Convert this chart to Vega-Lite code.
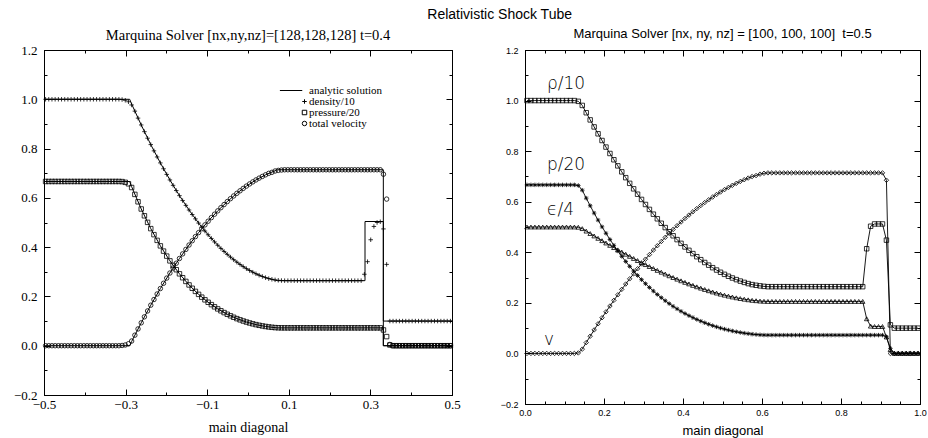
{
"$schema": "https://vega.github.io/schema/vega-lite/v6.json",
"padding": {"left": 0, "top": 8, "right": 0, "bottom": 0},
"spacing": 33,
"resolve": {"scale": {"shape": "independent"}, "legend": {"shape": "independent"}},
"title": {"text": "Relativistic Shock Tube", "font": "Liberation Sans", "fontSize": 14, "fontWeight": "normal", "color": "black", "anchor": "middle", "dx": 36, "offset": 5},
"config": {
  "view": {"stroke": "black", "strokeWidth": 1},
  "axis": {"grid": false, "domainColor": "black", "tickColor": "black", "labelColor": "black", "titleColor": "black", "tickWidth": 1, "labelFlush": false, "labelOverlap": false}
},
"datasets": {
"an": [
{"s":"d","o":0,"x":-0.5,"y":1},{"s":"d","o":1,"x":-0.29,"y":1},{"s":"d","o":2,"x":-0.2852,"y":0.9808},{"s":"d","o":3,"x":-0.2617,"y":0.8958},{"s":"d","o":4,"x":-0.2383,"y":0.8161},{"s":"d","o":5,"x":-0.2148,"y":0.7418},{"s":"d","o":6,"x":-0.1914,"y":0.6727},{"s":"d","o":7,"x":-0.168,"y":0.609},{"s":"d","o":8,"x":-0.1445,"y":0.5507},{"s":"d","o":9,"x":-0.1211,"y":0.4977},{"s":"d","o":10,"x":-0.0977,"y":0.4501},{"s":"d","o":11,"x":-0.0742,"y":0.4077},{"s":"d","o":12,"x":-0.0508,"y":0.3708},{"s":"d","o":13,"x":-0.0273,"y":0.3391},{"s":"d","o":14,"x":-0.0039,"y":0.3128},{"s":"d","o":15,"x":0.0195,"y":0.2919},{"s":"d","o":16,"x":0.043,"y":0.2762},{"s":"d","o":17,"x":0.0664,"y":0.266},{"s":"d","o":18,"x":0.072,"y":0.264},{"s":"d","o":19,"x":0.2868,"y":0.264},{"s":"d","o":20,"x":0.2868,"y":0.504},{"s":"d","o":21,"x":0.3317,"y":0.504},{"s":"d","o":22,"x":0.3317,"y":0.1},{"s":"d","o":23,"x":0.5,"y":0.1},
{"s":"p","o":0,"x":-0.5,"y":0.6665},{"s":"p","o":1,"x":-0.29,"y":0.6665},{"s":"p","o":2,"x":-0.2852,"y":0.6455},{"s":"p","o":3,"x":-0.2617,"y":0.5549},{"s":"p","o":4,"x":-0.2383,"y":0.4752},{"s":"p","o":5,"x":-0.2148,"y":0.4052},{"s":"p","o":6,"x":-0.1914,"y":0.3443},{"s":"p","o":7,"x":-0.168,"y":0.2917},{"s":"p","o":8,"x":-0.1445,"y":0.2466},{"s":"p","o":9,"x":-0.1211,"y":0.2084},{"s":"p","o":10,"x":-0.0977,"y":0.1763},{"s":"p","o":11,"x":-0.0742,"y":0.1494},{"s":"p","o":12,"x":-0.0508,"y":0.1276},{"s":"p","o":13,"x":-0.0273,"y":0.1099},{"s":"p","o":14,"x":-0.0039,"y":0.0961},{"s":"p","o":15,"x":0.0195,"y":0.0856},{"s":"p","o":16,"x":0.043,"y":0.0781},{"s":"p","o":17,"x":0.0664,"y":0.0733},{"s":"p","o":18,"x":0.072,"y":0.0724},{"s":"p","o":19,"x":0.3317,"y":0.0724},{"s":"p","o":20,"x":0.3317,"y":0},{"s":"p","o":21,"x":0.5,"y":0},
{"s":"v","o":0,"x":-0.5,"y":0},{"s":"v","o":1,"x":-0.29,"y":0},{"s":"v","o":2,"x":-0.2852,"y":0.017},{"s":"v","o":3,"x":-0.2617,"y":0.0929},{"s":"v","o":4,"x":-0.2383,"y":0.1645},{"s":"v","o":5,"x":-0.2148,"y":0.2319},{"s":"v","o":6,"x":-0.1914,"y":0.295},{"s":"v","o":7,"x":-0.168,"y":0.3539},{"s":"v","o":8,"x":-0.1445,"y":0.4086},{"s":"v","o":9,"x":-0.1211,"y":0.459},{"s":"v","o":10,"x":-0.0977,"y":0.5052},{"s":"v","o":11,"x":-0.0742,"y":0.5472},{"s":"v","o":12,"x":-0.0508,"y":0.5849},{"s":"v","o":13,"x":-0.0273,"y":0.6184},{"s":"v","o":14,"x":-0.0039,"y":0.6477},{"s":"v","o":15,"x":0.0195,"y":0.6727},{"s":"v","o":16,"x":0.043,"y":0.6935},{"s":"v","o":17,"x":0.0664,"y":0.71},{"s":"v","o":18,"x":0.072,"y":0.714},{"s":"v","o":19,"x":0.3317,"y":0.714},{"s":"v","o":20,"x":0.3317,"y":0},{"s":"v","o":21,"x":0.5,"y":0}
],
"left": [
{"x":-0.4961,"d":1,"p":0.6665,"v":0},{"x":-0.4883,"d":1,"p":0.6665,"v":0},{"x":-0.4805,"d":1,"p":0.6665,"v":0},{"x":-0.4727,"d":1,"p":0.6665,"v":0},{"x":-0.4648,"d":1,"p":0.6665,"v":0},{"x":-0.457,"d":1,"p":0.6665,"v":0},{"x":-0.4492,"d":1,"p":0.6665,"v":0},{"x":-0.4414,"d":1,"p":0.6665,"v":0},{"x":-0.4336,"d":1,"p":0.6665,"v":0},{"x":-0.4258,"d":1,"p":0.6665,"v":0},{"x":-0.418,"d":1,"p":0.6665,"v":0},{"x":-0.4102,"d":1,"p":0.6665,"v":0},{"x":-0.4023,"d":1,"p":0.6665,"v":0},{"x":-0.3945,"d":1,"p":0.6665,"v":0},{"x":-0.3867,"d":1,"p":0.6665,"v":0},{"x":-0.3789,"d":1,"p":0.6665,"v":0},{"x":-0.3711,"d":1,"p":0.6665,"v":0},{"x":-0.3633,"d":1,"p":0.6665,"v":0},{"x":-0.3555,"d":1,"p":0.6665,"v":0},{"x":-0.3477,"d":1,"p":0.6665,"v":0},{"x":-0.3398,"d":1,"p":0.6665,"v":0},{"x":-0.332,"d":1,"p":0.6665,"v":0},{"x":-0.3242,"d":1,"p":0.6665,"v":0},{"x":-0.3164,"d":1,"p":0.6665,"v":0},
{"x":-0.3086,"d":0.999,"p":0.666,"v":0.001},{"x":-0.3008,"d":0.996,"p":0.663,"v":0.003},{"x":-0.293,"d":0.99,"p":0.657,"v":0.008},{"x":-0.2852,"d":0.977,"p":0.642,"v":0.019},
{"x":-0.2773,"d":0.9519,"p":0.614,"v":0.0428},{"x":-0.2695,"d":0.9236,"p":0.584,"v":0.0681},{"x":-0.2617,"d":0.8958,"p":0.5549,"v":0.0929},{"x":-0.2539,"d":0.8686,"p":0.5272,"v":0.1172},{"x":-0.2461,"d":0.8421,"p":0.5006,"v":0.1411},{"x":-0.2383,"d":0.8161,"p":0.4752,"v":0.1645},{"x":-0.2305,"d":0.7907,"p":0.4507,"v":0.1874},{"x":-0.2227,"d":0.7659,"p":0.4275,"v":0.2099},{"x":-0.2148,"d":0.7418,"p":0.4052,"v":0.2319},{"x":-0.207,"d":0.7181,"p":0.3839,"v":0.2534},{"x":-0.1992,"d":0.6951,"p":0.3636,"v":0.2744},{"x":-0.1914,"d":0.6727,"p":0.3443,"v":0.295},{"x":-0.1836,"d":0.6509,"p":0.3259,"v":0.3151},{"x":-0.1758,"d":0.6297,"p":0.3084,"v":0.3348},{"x":-0.168,"d":0.609,"p":0.2917,"v":0.3539},{"x":-0.1602,"d":0.589,"p":0.2759,"v":0.3726},{"x":-0.1523,"d":0.5696,"p":0.2609,"v":0.3908},{"x":-0.1445,"d":0.5507,"p":0.2466,"v":0.4086},{"x":-0.1367,"d":0.5324,"p":0.2331,"v":0.4259},{"x":-0.1289,"d":0.5148,"p":0.2205,"v":0.4427},{"x":-0.1211,"d":0.4977,"p":0.2084,"v":0.459},{"x":-0.1133,"d":0.4812,"p":0.197,"v":0.4749},{"x":-0.1055,"d":0.4653,"p":0.1862,"v":0.4903},{"x":-0.0977,"d":0.4501,"p":0.1763,"v":0.5052},{"x":-0.0898,"d":0.4353,"p":0.1667,"v":0.5197},{"x":-0.082,"d":0.4212,"p":0.1578,"v":0.5337},{"x":-0.0742,"d":0.4077,"p":0.1494,"v":0.5472},{"x":-0.0664,"d":0.3948,"p":0.1417,"v":0.5602},{"x":-0.0586,"d":0.3825,"p":0.1344,"v":0.5728},{"x":-0.0508,"d":0.3708,"p":0.1276,"v":0.5849},{"x":-0.043,"d":0.3596,"p":0.1213,"v":0.5966},{"x":-0.0352,"d":0.3491,"p":0.1154,"v":0.6077},{"x":-0.0273,"d":0.3391,"p":0.1099,"v":0.6184},{"x":-0.0195,"d":0.3298,"p":0.105,"v":0.6286},{"x":-0.0117,"d":0.321,"p":0.1003,"v":0.6384},{"x":-0.0039,"d":0.3128,"p":0.0961,"v":0.6477},{"x":0.0039,"d":0.3052,"p":0.0923,"v":0.6565},{"x":0.0117,"d":0.2983,"p":0.0888,"v":0.6648},{"x":0.0195,"d":0.2919,"p":0.0856,"v":0.6727},{"x":0.0273,"d":0.2861,"p":0.0828,"v":0.6801},{"x":0.0352,"d":0.2809,"p":0.0803,"v":0.687},{"x":0.043,"d":0.2762,"p":0.0781,"v":0.6935},{"x":0.0508,"d":0.2722,"p":0.0762,"v":0.6995},{"x":0.0586,"d":0.2695,"p":0.0747,"v":0.7035},{"x":0.0664,"d":0.2672,"p":0.0735,"v":0.709},{"x":0.0742,"d":0.2655,"p":0.0728,"v":0.7115},{"x":0.082,"d":0.2645,"p":0.0725,"v":0.713},
{"x":0.0898,"d":0.264,"p":0.0724,"v":0.714},{"x":0.0977,"d":0.264,"p":0.0724,"v":0.714},{"x":0.1055,"d":0.264,"p":0.0724,"v":0.714},{"x":0.1133,"d":0.264,"p":0.0724,"v":0.714},{"x":0.1211,"d":0.264,"p":0.0724,"v":0.714},{"x":0.1289,"d":0.264,"p":0.0724,"v":0.714},{"x":0.1367,"d":0.264,"p":0.0724,"v":0.714},{"x":0.1445,"d":0.264,"p":0.0724,"v":0.714},{"x":0.1523,"d":0.264,"p":0.0724,"v":0.714},{"x":0.1602,"d":0.264,"p":0.0724,"v":0.714},{"x":0.168,"d":0.264,"p":0.0724,"v":0.714},{"x":0.1758,"d":0.264,"p":0.0724,"v":0.714},{"x":0.1836,"d":0.264,"p":0.0724,"v":0.714},{"x":0.1914,"d":0.264,"p":0.0724,"v":0.714},{"x":0.1992,"d":0.264,"p":0.0724,"v":0.714},{"x":0.207,"d":0.264,"p":0.0724,"v":0.714},{"x":0.2148,"d":0.264,"p":0.0724,"v":0.714},{"x":0.2227,"d":0.264,"p":0.0724,"v":0.714},{"x":0.2305,"d":0.264,"p":0.0724,"v":0.714},{"x":0.2383,"d":0.264,"p":0.0724,"v":0.714},{"x":0.2461,"d":0.264,"p":0.0724,"v":0.714},{"x":0.2539,"d":0.264,"p":0.0724,"v":0.714},{"x":0.2617,"d":0.264,"p":0.0724,"v":0.714},{"x":0.2695,"d":0.264,"p":0.0724,"v":0.714},{"x":0.2773,"d":0.264,"p":0.0724,"v":0.714},
{"x":0.2852,"d":0.29,"p":0.0724,"v":0.714},{"x":0.293,"d":0.341,"p":0.0724,"v":0.714},{"x":0.3008,"d":0.43,"p":0.0724,"v":0.714},{"x":0.3086,"d":0.484,"p":0.0724,"v":0.714},{"x":0.3164,"d":0.5,"p":0.0724,"v":0.714},{"x":0.3242,"d":0.503,"p":0.0724,"v":0.714},{"x":0.332,"d":0.474,"p":0.064,"v":0.696},{"x":0.3398,"d":0.33,"p":0.037,"v":0.595},{"x":0.3477,"d":0.1,"p":0.003,"v":0.005},
{"x":0.3555,"d":0.1,"p":0,"v":0},{"x":0.3633,"d":0.1,"p":0,"v":0},{"x":0.3711,"d":0.1,"p":0,"v":0},{"x":0.3789,"d":0.1,"p":0,"v":0},{"x":0.3867,"d":0.1,"p":0,"v":0},{"x":0.3945,"d":0.1,"p":0,"v":0},{"x":0.4023,"d":0.1,"p":0,"v":0},{"x":0.4102,"d":0.1,"p":0,"v":0},{"x":0.418,"d":0.1,"p":0,"v":0},{"x":0.4258,"d":0.1,"p":0,"v":0},{"x":0.4336,"d":0.1,"p":0,"v":0},{"x":0.4414,"d":0.1,"p":0,"v":0},{"x":0.4492,"d":0.1,"p":0,"v":0},{"x":0.457,"d":0.1,"p":0,"v":0},{"x":0.4648,"d":0.1,"p":0,"v":0},{"x":0.4727,"d":0.1,"p":0,"v":0},{"x":0.4805,"d":0.1,"p":0,"v":0},{"x":0.4883,"d":0.1,"p":0,"v":0},{"x":0.4961,"d":0.1,"p":0,"v":0}
],
"right": [
{"x":0.005,"r":1,"p":0.6665,"e":0.5,"v":0},{"x":0.015,"r":1,"p":0.6665,"e":0.5,"v":0},{"x":0.025,"r":1,"p":0.6665,"e":0.5,"v":0},{"x":0.035,"r":1,"p":0.6665,"e":0.5,"v":0},{"x":0.045,"r":1,"p":0.6665,"e":0.5,"v":0},{"x":0.055,"r":1,"p":0.6665,"e":0.5,"v":0},{"x":0.065,"r":1,"p":0.6665,"e":0.5,"v":0},{"x":0.075,"r":1,"p":0.6665,"e":0.5,"v":0},{"x":0.085,"r":1,"p":0.6665,"e":0.5,"v":0},{"x":0.095,"r":1,"p":0.6665,"e":0.5,"v":0},{"x":0.105,"r":1,"p":0.6665,"e":0.5,"v":0},{"x":0.115,"r":1,"p":0.6665,"e":0.5,"v":0},{"x":0.125,"r":1,"p":0.6665,"e":0.5,"v":0},
{"x":0.135,"r":0.997,"p":0.664,"e":0.499,"v":0.002},
{"x":0.145,"r":0.9808,"p":0.6455,"e":0.4936,"v":0.017},{"x":0.155,"r":0.9519,"p":0.614,"e":0.4838,"v":0.0428},{"x":0.165,"r":0.9236,"p":0.584,"e":0.4742,"v":0.0681},{"x":0.175,"r":0.8958,"p":0.5549,"e":0.4646,"v":0.0929},{"x":0.185,"r":0.8686,"p":0.5272,"e":0.4552,"v":0.1172},{"x":0.195,"r":0.8421,"p":0.5006,"e":0.4459,"v":0.1411},{"x":0.205,"r":0.8161,"p":0.4752,"e":0.4367,"v":0.1645},{"x":0.215,"r":0.7907,"p":0.4507,"e":0.4275,"v":0.1874},{"x":0.225,"r":0.7659,"p":0.4275,"e":0.4186,"v":0.2099},{"x":0.235,"r":0.7418,"p":0.4052,"e":0.4097,"v":0.2319},{"x":0.245,"r":0.7181,"p":0.3839,"e":0.401,"v":0.2534},{"x":0.255,"r":0.6951,"p":0.3636,"e":0.3923,"v":0.2744},{"x":0.265,"r":0.6727,"p":0.3443,"e":0.3839,"v":0.295},{"x":0.275,"r":0.6509,"p":0.3259,"e":0.3755,"v":0.3151},{"x":0.285,"r":0.6297,"p":0.3084,"e":0.3673,"v":0.3348},{"x":0.295,"r":0.609,"p":0.2917,"e":0.3592,"v":0.3539},{"x":0.305,"r":0.589,"p":0.2759,"e":0.3513,"v":0.3726},{"x":0.315,"r":0.5696,"p":0.2609,"e":0.3436,"v":0.3908},{"x":0.325,"r":0.5507,"p":0.2466,"e":0.3359,"v":0.4086},{"x":0.335,"r":0.5324,"p":0.2331,"e":0.3284,"v":0.4259},{"x":0.345,"r":0.5148,"p":0.2205,"e":0.3212,"v":0.4427},{"x":0.355,"r":0.4977,"p":0.2084,"e":0.314,"v":0.459},{"x":0.365,"r":0.4812,"p":0.197,"e":0.307,"v":0.4749},{"x":0.375,"r":0.4653,"p":0.1862,"e":0.3002,"v":0.4903},{"x":0.385,"r":0.4501,"p":0.1763,"e":0.2937,"v":0.5052},{"x":0.395,"r":0.4353,"p":0.1667,"e":0.2872,"v":0.5197},{"x":0.405,"r":0.4212,"p":0.1578,"e":0.281,"v":0.5337},{"x":0.415,"r":0.4077,"p":0.1494,"e":0.2749,"v":0.5472},{"x":0.425,"r":0.3948,"p":0.1417,"e":0.2691,"v":0.5602},{"x":0.435,"r":0.3825,"p":0.1344,"e":0.2635,"v":0.5728},{"x":0.445,"r":0.3708,"p":0.1276,"e":0.2581,"v":0.5849},{"x":0.455,"r":0.3596,"p":0.1213,"e":0.2529,"v":0.5966},{"x":0.465,"r":0.3491,"p":0.1154,"e":0.2479,"v":0.6077},{"x":0.475,"r":0.3391,"p":0.1099,"e":0.2431,"v":0.6184},{"x":0.485,"r":0.3298,"p":0.105,"e":0.2387,"v":0.6286},{"x":0.495,"r":0.321,"p":0.1003,"e":0.2344,"v":0.6384},{"x":0.505,"r":0.3128,"p":0.0961,"e":0.2304,"v":0.6477},{"x":0.515,"r":0.3052,"p":0.0923,"e":0.2267,"v":0.6565},{"x":0.525,"r":0.2983,"p":0.0888,"e":0.2232,"v":0.6648},{"x":0.535,"r":0.2919,"p":0.0856,"e":0.22,"v":0.6727},{"x":0.545,"r":0.2861,"p":0.0828,"e":0.2171,"v":0.6801},{"x":0.555,"r":0.2809,"p":0.0803,"e":0.2145,"v":0.687},{"x":0.565,"r":0.2762,"p":0.0781,"e":0.2121,"v":0.6935},{"x":0.575,"r":0.2722,"p":0.0762,"e":0.21,"v":0.6995},{"x":0.585,"r":0.2695,"p":0.0747,"e":0.2085,"v":0.7035},{"x":0.595,"r":0.2672,"p":0.0735,"e":0.207,"v":0.709},{"x":0.605,"r":0.2652,"p":0.0727,"e":0.2062,"v":0.7125},
{"x":0.615,"r":0.264,"p":0.0724,"e":0.2057,"v":0.714},{"x":0.625,"r":0.264,"p":0.0724,"e":0.2057,"v":0.714},{"x":0.635,"r":0.264,"p":0.0724,"e":0.2057,"v":0.714},{"x":0.645,"r":0.264,"p":0.0724,"e":0.2057,"v":0.714},{"x":0.655,"r":0.264,"p":0.0724,"e":0.2057,"v":0.714},{"x":0.665,"r":0.264,"p":0.0724,"e":0.2057,"v":0.714},{"x":0.675,"r":0.264,"p":0.0724,"e":0.2057,"v":0.714},{"x":0.685,"r":0.264,"p":0.0724,"e":0.2057,"v":0.714},{"x":0.695,"r":0.264,"p":0.0724,"e":0.2057,"v":0.714},{"x":0.705,"r":0.264,"p":0.0724,"e":0.2057,"v":0.714},{"x":0.715,"r":0.264,"p":0.0724,"e":0.2057,"v":0.714},{"x":0.725,"r":0.264,"p":0.0724,"e":0.2057,"v":0.714},{"x":0.735,"r":0.264,"p":0.0724,"e":0.2057,"v":0.714},{"x":0.745,"r":0.264,"p":0.0724,"e":0.2057,"v":0.714},{"x":0.755,"r":0.264,"p":0.0724,"e":0.2057,"v":0.714},{"x":0.765,"r":0.264,"p":0.0724,"e":0.2057,"v":0.714},{"x":0.775,"r":0.264,"p":0.0724,"e":0.2057,"v":0.714},{"x":0.785,"r":0.264,"p":0.0724,"e":0.2057,"v":0.714},{"x":0.795,"r":0.264,"p":0.0724,"e":0.2057,"v":0.714},{"x":0.805,"r":0.264,"p":0.0724,"e":0.2057,"v":0.714},{"x":0.815,"r":0.264,"p":0.0724,"e":0.2057,"v":0.714},{"x":0.825,"r":0.264,"p":0.0724,"e":0.2057,"v":0.714},{"x":0.835,"r":0.264,"p":0.0724,"e":0.2057,"v":0.714},{"x":0.845,"r":0.264,"p":0.0724,"e":0.2057,"v":0.714},{"x":0.855,"r":0.264,"p":0.0724,"e":0.2057,"v":0.714},
{"x":0.865,"r":0.414,"p":0.0724,"e":0.137,"v":0.714},{"x":0.875,"r":0.503,"p":0.0724,"e":0.108,"v":0.714},{"x":0.885,"r":0.512,"p":0.0724,"e":0.1065,"v":0.714},{"x":0.895,"r":0.512,"p":0.0724,"e":0.1065,"v":0.714},{"x":0.905,"r":0.512,"p":0.0724,"e":0.1065,"v":0.714},{"x":0.915,"r":0.448,"p":0.066,"e":0.065,"v":0.685},{"x":0.925,"r":0.113,"p":0.02,"e":0.015,"v":0},
{"x":0.935,"r":0.1,"p":0,"e":0,"v":0},{"x":0.945,"r":0.1,"p":0,"e":0,"v":0},{"x":0.955,"r":0.1,"p":0,"e":0,"v":0},{"x":0.965,"r":0.1,"p":0,"e":0,"v":0},{"x":0.975,"r":0.1,"p":0,"e":0,"v":0},{"x":0.985,"r":0.1,"p":0,"e":0,"v":0},{"x":0.995,"r":0.1,"p":0,"e":0,"v":0}
],
"lab": [
{"x":0.104,"y":1.067,"t":"ρ/10"},{"x":0.104,"y":0.747,"t":"p/20"},{"x":0.09,"y":0.569,"t":"ϵ/4"},{"x":0.061,"y":0.055,"t":"v"}
]
},
"hconcat": [
{
  "width": 408, "height": 345,
  "title": {"text": "Marquina Solver [nx,ny,nz]=[128,128,128] t=0.4", "font": "Liberation Serif", "fontSize": 14.5, "fontWeight": "normal", "color": "black", "offset": 1},
  "resolve": {"axis": {"x": "independent", "y": "independent"}},
  "layer": [
    {
      "data": {"name": "an"},
      "mark": {"type": "line", "stroke": "black", "strokeWidth": 1},
      "encoding": {
        "x": {"field": "x", "type": "quantitative", "scale": {"domain": [-0.5, 0.5], "nice": false, "zero": false},
          "axis": {"orient": "bottom", "values": [-0.5,-0.4,-0.3,-0.2,-0.1,0,0.1,0.2,0.3,0.4,0.5], "format": ".1f",
            "labelExpr": "abs(round(datum.value*10))%2==1 ? datum.label : ''",
            "tickSize": {"condition": {"test": "abs(round(datum.value*10))%2==1", "value": -6}, "value": -3},
            "labelPadding": 9, "labelFont": "Liberation Serif", "labelFontSize": 13,
            "title": "main diagonal", "titleFont": "Liberation Serif", "titleFontSize": 14, "titleFontWeight": "normal", "titlePadding": 5,
            "minExtent": 20, "maxExtent": 20}},
        "y": {"field": "y", "type": "quantitative", "scale": {"domain": [-0.2, 1.2], "nice": false, "zero": false},
          "axis": {"orient": "left", "values": [-0.2,-0.1,0,0.1,0.2,0.3,0.4,0.5,0.6,0.7,0.8,0.9,1,1.1,1.2], "format": ".1f",
            "labelExpr": "abs(round(datum.value*10))%2==0 ? datum.label : ''",
            "tickSize": {"condition": {"test": "abs(round(datum.value*10))%2==0", "value": -6}, "value": -3},
            "labelPadding": 13, "labelFont": "Liberation Serif", "labelFontSize": 13,
            "title": null, "minExtent": 43, "maxExtent": 43}},
        "detail": {"field": "s", "type": "nominal"},
        "order": {"field": "o", "type": "quantitative"}
      }
    },
    {
      "data": {"name": "left"},
      "transform": [{"fold": ["d", "p", "v"], "as": ["s", "y"]}],
      "mark": {"type": "point", "filled": false, "stroke": "black", "strokeWidth": 0.8, "size": 20, "opacity": 1},
      "encoding": {
        "x": {"field": "x", "type": "quantitative", "scale": {"domain": [-0.5, 0.5], "nice": false, "zero": false},
          "axis": {"orient": "top", "values": [-0.5,-0.4,-0.3,-0.2,-0.1,0,0.1,0.2,0.3,0.4,0.5], "labels": false,
            "tickSize": {"condition": {"test": "abs(round(datum.value*10))%2==1", "value": -6}, "value": -3},
            "title": null, "minExtent": 0, "maxExtent": 0}},
        "y": {"field": "y", "type": "quantitative", "scale": {"domain": [-0.2, 1.2], "nice": false, "zero": false},
          "axis": {"orient": "right", "values": [-0.2,-0.1,0,0.1,0.2,0.3,0.4,0.5,0.6,0.7,0.8,0.9,1,1.1,1.2], "labels": false,
            "tickSize": {"condition": {"test": "abs(round(datum.value*10))%2==0", "value": -6}, "value": -3},
            "title": null, "minExtent": 0, "maxExtent": 0}},
        "shape": {"field": "s", "type": "nominal",
          "scale": {"domain": ["a", "d", "p", "v"], "range": ["M-11,0H-1", "M-1,0H1M0,-1V1", "square", "circle"]},
          "legend": {"title": null, "orient": "none", "legendX": 255, "legendY": 35, "padding": 0,
            "labelExpr": "datum.label=='a' ? 'analytic solution' : datum.label=='d' ? 'density/10' : datum.label=='p' ? 'pressure/20' : 'total velocity'",
            "labelFont": "Liberation Serif", "labelFontSize": 11, "labelColor": "black", "labelOffset": -1,
            "symbolStrokeColor": "black", "symbolStrokeWidth": 1, "symbolSize": 20, "rowPadding": -1}}
      }
    }
  ]
},
{
  "width": 395, "height": 354,
  "title": {"text": "Marquina Solver [nx, ny, nz] = [100, 100, 100] \u00a0t=0.5", "font": "Liberation Sans", "fontSize": 13, "fontWeight": "normal", "color": "black", "offset": 5},
  "resolve": {"axis": {"x": "independent", "y": "independent"}},
  "layer": [
    {
      "data": {"name": "right"},
      "transform": [{"fold": ["r", "p", "e", "v"], "as": ["s", "y"]}],
      "mark": {"type": "line", "stroke": "black", "strokeWidth": 0.9},
      "encoding": {
        "x": {"field": "x", "type": "quantitative", "scale": {"domain": [0, 1], "nice": false, "zero": false},
          "axis": {"orient": "bottom", "values": [0,0.05,0.1,0.15,0.2,0.25,0.3,0.35,0.4,0.45,0.5,0.55,0.6,0.65,0.7,0.75,0.8,0.85,0.9,0.95,1], "format": ".1f",
            "labelExpr": "round(datum.value*20)%4==0 ? datum.label : ''",
            "tickSize": {"condition": {"test": "round(datum.value*20)%4==0", "value": -6}, "value": -3},
            "labelPadding": 10, "labelFont": "Liberation Sans", "labelFontSize": 9,
            "title": "main diagonal", "titleFont": "Liberation Sans", "titleFontSize": 13, "titleFontWeight": "normal", "titlePadding": 4,
            "minExtent": 16, "maxExtent": 16}},
        "y": {"field": "y", "type": "quantitative", "scale": {"domain": [-0.2, 1.2], "nice": false, "zero": false},
          "axis": {"orient": "left", "values": [-0.2,-0.1,0,0.1,0.2,0.3,0.4,0.5,0.6,0.7,0.8,0.9,1,1.1,1.2], "format": ".1f",
            "labelExpr": "abs(round(datum.value*10))%2==0 ? datum.label : ''",
            "tickSize": {"condition": {"test": "abs(round(datum.value*10))%2==0", "value": -6}, "value": -3},
            "labelPadding": 13, "labelFont": "Liberation Sans", "labelFontSize": 9,
            "title": null, "minExtent": 30, "maxExtent": 30}},
        "detail": {"field": "s", "type": "nominal"}
      }
    },
    {
      "data": {"name": "right"},
      "transform": [{"fold": ["r", "p", "e", "v"], "as": ["s", "y"]}],
      "mark": {"type": "point", "filled": false, "stroke": "black", "strokeWidth": 0.8, "size": 20, "opacity": 1},
      "encoding": {
        "x": {"field": "x", "type": "quantitative", "scale": {"domain": [0, 1], "nice": false, "zero": false},
          "axis": {"orient": "top", "values": [0,0.05,0.1,0.15,0.2,0.25,0.3,0.35,0.4,0.45,0.5,0.55,0.6,0.65,0.7,0.75,0.8,0.85,0.9,0.95,1], "labels": false,
            "tickSize": {"condition": {"test": "round(datum.value*20)%4==0", "value": -6}, "value": -3},
            "title": null, "minExtent": 0, "maxExtent": 0}},
        "y": {"field": "y", "type": "quantitative", "scale": {"domain": [-0.2, 1.2], "nice": false, "zero": false},
          "axis": {"orient": "right", "values": [-0.2,-0.1,0,0.1,0.2,0.3,0.4,0.5,0.6,0.7,0.8,0.9,1,1.1,1.2], "labels": false,
            "tickSize": {"condition": {"test": "abs(round(datum.value*10))%2==0", "value": -6}, "value": -3},
            "title": null, "minExtent": 0, "maxExtent": 0}},
        "shape": {"field": "s", "type": "nominal",
          "scale": {"domain": ["r", "p", "e", "v"], "range": ["square", "M-1,0H1M0,-1V1M-0.7,-0.7L0.7,0.7M-0.7,0.7L0.7,-0.7", "triangle-up", "diamond"]},
          "legend": null}
      }
    },
    {
      "data": {"name": "lab"},
      "mark": {"type": "text", "font": "DejaVu Sans", "fontSize": 17, "fontWeight": 300, "color": "black", "align": "center", "baseline": "middle"},
      "encoding": {
        "x": {"field": "x", "type": "quantitative", "axis": null},
        "y": {"field": "y", "type": "quantitative", "axis": null},
        "text": {"field": "t", "type": "nominal"}
      }
    }
  ]
}
]
}
